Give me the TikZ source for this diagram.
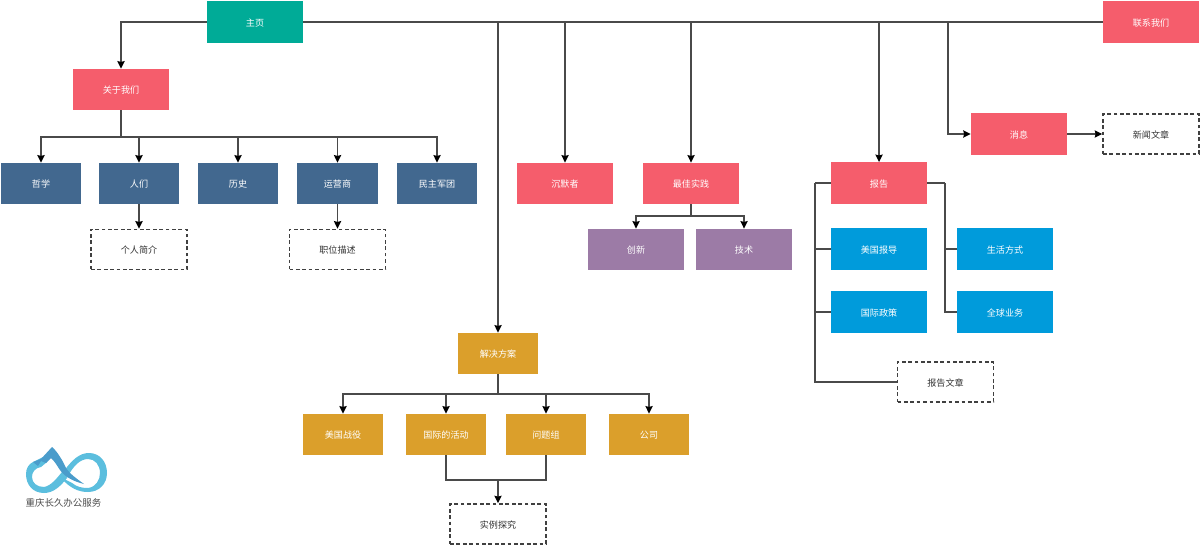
\documentclass[tikz,border=0pt]{standalone}
\usepackage{fontspec}
\setmainfont{Noto Sans CJK SC}
\usetikzlibrary{arrows.meta,positioning}
\definecolor{cgreen}{HTML}{00AB97}
\definecolor{cred}{HTML}{F55D6C}
\definecolor{cnavy}{HTML}{42688F}
\definecolor{cpurple}{HTML}{9C7BA6}
\definecolor{cblue}{HTML}{009BDB}
\definecolor{camber}{HTML}{DB9F2B}
\definecolor{cline}{HTML}{4A4A4A}
\definecolor{clogo}{HTML}{5BBEDE}
\definecolor{cpeak}{HTML}{4A9CCB}
\tikzset{
  x=0.75pt,y=-0.75pt,
  boxbase/.style={anchor=center,inner sep=0pt,text height=7.5pt,text depth=0.8pt,font=\fontsize{6.8}{8}\selectfont},
  wide/.style={minimum width=72pt,minimum height=31pt},
  narrow/.style={minimum width=60.5pt,minimum height=31pt},
  filled/.style={boxbase,text=white},
  homebox/.style={filled,wide,fill=cgreen},
  redbox/.style={filled,wide,fill=cred},
  navybox/.style={filled,narrow,fill=cnavy},
  purplebox/.style={filled,wide,fill=cpurple},
  bluebox/.style={filled,wide,fill=cblue},
  amberbox/.style={filled,narrow,fill=camber},
  dashbox/.style={boxbase,wide,minimum height=30pt,draw=black!75,line width=1.1pt,dash pattern=on 2.8pt off 2pt,fill=white,text=black!80},
  link/.style={draw=cline,line width=1.1pt},
  arrowlink/.style={link,-{Stealth[length=5.6pt,width=5.4pt,inset=0.6pt,color=black]}},
}
\begin{document}
\begin{tikzpicture}
\useasboundingbox (0,0) rectangle (1200,545);
\fill[white] (0,0) rectangle (1200,545);
% nodes
\node[homebox] (home) at (255,22) {主页};
\node[redbox] (contact) at (1151,22) {联系我们};
\node[redbox] (about) at (121,89.5) {关于我们};
\node[navybox] (phil) at (41,183.5) {哲学};
\node[navybox] (people) at (139,183.5) {人们};
\node[navybox] (hist) at (238,183.5) {历史};
\node[navybox] (oper) at (337.5,183.5) {运营商};
\node[navybox] (legion) at (437,183.5) {民主军团};
\node[dashbox] (profile) at (139,249.3) {个人简介};
\node[dashbox] (jobdesc) at (337.5,249.3) {职位描述};
\node[redbox] (silent) at (565,183.5) {沉默者};
\node[redbox] (best) at (691,183.5) {最佳实践};
\node[purplebox] (innov) at (636,249.5) {创新};
\node[purplebox] (tech) at (744,249.5) {技术};
\node[redbox] (report) at (879,183) {报告};
\node[bluebox] (usrep) at (879,249) {美国报导};
\node[bluebox] (intl) at (879,312) {国际政策};
\node[bluebox] (life) at (1005,249) {生活方式};
\node[bluebox] (biz) at (1005,312) {全球业务};
\node[dashbox] (article) at (945.5,382) {报告文章};
\node[redbox] (news) at (1019,134) {消息};
\node[dashbox] (newsart) at (1151,134) {新闻文章};
\node[amberbox] (sol) at (498,353.5) {解决方案};
\node[amberbox] (uscamp) at (343,434.5) {美国战役};
\node[amberbox] (intact) at (446,434.5) {国际的活动};
\node[amberbox] (issue) at (546,434.5) {问题组};
\node[amberbox] (corp) at (649,434.5) {公司};
\node[dashbox] (casest) at (498,524) {实例探究};
% junctions
\coordinate (abj) at (121,137);
\coordinate (bestj) at (691,216);
\coordinate (solj) at (498,394);
\coordinate (casej) at (498,480);
\coordinate (repl) at (815,183);
\coordinate (repr) at (945,183);
\coordinate (newsj) at (948,22);
% connectors
\draw[arrowlink] (home.west) -| (about.north);
\draw[link] (home.east) -- (contact.west);
\draw[arrowlink] (home.east -| sol.north) -- (sol.north);
\draw[arrowlink] (home.east -| silent.north) -- (silent.north);
\draw[arrowlink] (home.east -| best.north) -- (best.north);
\draw[arrowlink] (home.east -| report.north) -- (report.north);
\draw[arrowlink] (newsj) |- (news.west);
\draw[arrowlink] (news.east) -- (newsart.west);
\draw[link] (about.south) -- (abj);
\draw[arrowlink] (abj) -| (phil.north);
\draw[arrowlink] (abj) -| (people.north);
\draw[arrowlink] (abj) -| (hist.north);
\draw[arrowlink] (abj) -| (oper.north);
\draw[arrowlink] (abj) -| (legion.north);
\draw[arrowlink] (people.south) -- (profile.north);
\draw[arrowlink] (oper.south) -- (jobdesc.north);
\draw[link] (best.south) -- (bestj);
\draw[arrowlink] (bestj) -| (innov.north);
\draw[arrowlink] (bestj) -| (tech.north);
\draw[link] (report.west) -- (repl);
\draw[link] (repl) |- (article.west);
\draw[link] (repl |- usrep.west) -- (usrep.west);
\draw[link] (repl |- intl.west) -- (intl.west);
\draw[link] (report.east) -- (repr);
\draw[link] (repr) |- (biz.west);
\draw[link] (repr |- life.west) -- (life.west);
\draw[link] (sol.south) -- (solj);
\draw[arrowlink] (solj) -| (uscamp.north);
\draw[arrowlink] (solj) -| (intact.north);
\draw[arrowlink] (solj) -| (issue.north);
\draw[arrowlink] (solj) -| (corp.north);
\draw[link] (intact.south) |- (casej);
\draw[link] (issue.south) |- (casej);
\draw[arrowlink] (casej) -- (casest.north);
% logo
\fill[clogo] (62,474)
  .. controls (72,459) and (80,453) .. (89,453)
  .. controls (100,453) and (107,462) .. (107,473)
  .. controls (107,484) and (99,492) .. (88,492)
  .. controls (78,492) and (70,488) .. (61,478)
  .. controls (65,479) and (68,481) .. (72,483)
  .. controls (77,487) and (82,488) .. (88,488)
  .. controls (96,487) and (100,480) .. (100,473)
  .. controls (100,465) and (95,459) .. (88,459)
  .. controls (80,459) and (73,466) .. (67,478) -- cycle;
\fill[clogo] (26,474)
  .. controls (26,468) and (29,464) .. (33,462)
  -- (45,456) -- (47,462) -- (41,467)
  .. controls (35,468) and (32,472) .. (32,477)
  .. controls (32,483) and (37,487) .. (44,487)
  .. controls (51,486) and (57,478) .. (62,472)
  -- (67,478)
  .. controls (60,487) and (53,493) .. (44,493)
  .. controls (33,493) and (26,485) .. (26,474) -- cycle;
\fill[cpeak] (33,462)
  -- (41,459) -- (52,447) .. controls (57,451) and (63,461) .. (66,468)
  .. controls (70,474) and (77,479) .. (84,484)
  .. controls (72,481) and (63,476) .. (58,467)
  .. controls (55,462) and (53,460) .. (51,458)
  -- (46,463) -- (41,461) -- (38,466) -- cycle;
\node[boxbase,text=black!70,font=\fontsize{7.1}{8}\selectfont] (logotext) at (63.5,502.5) {重庆长久办公服务};
\end{tikzpicture}
\end{document}
